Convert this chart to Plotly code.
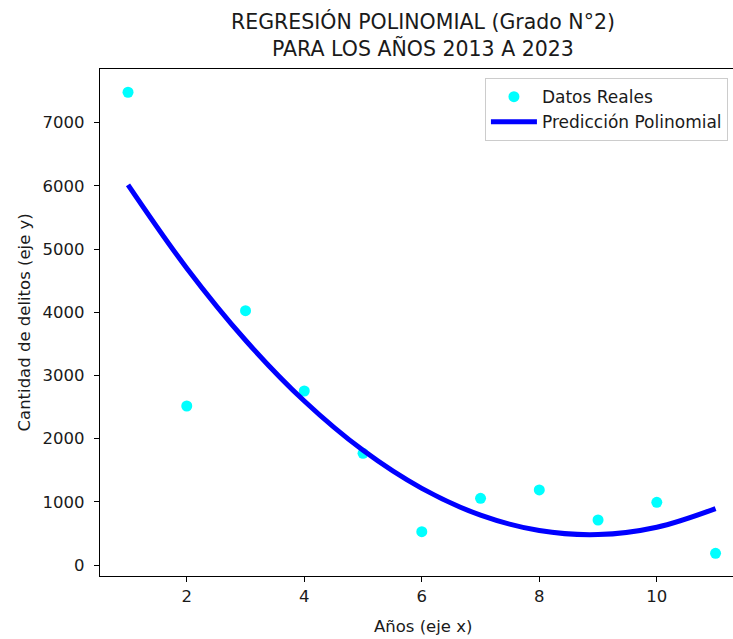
import plotly.graph_objects as go

# Data
years_idx = [1, 2, 3, 4, 5, 6, 7, 8, 9, 10, 11]
real_values = [7480, 2516, 4024, 2753, 1767, 527, 1055, 1187, 712, 992, 185]
pred_values = [6016, 4696, 3556, 2595, 1814, 1212, 789, 546, 482, 598, 893]
x_ticks = [2, 4, 6, 8, 10]
y_ticks = [0, 1000, 2000, 3000, 4000, 5000, 6000, 7000]

FONT = "DejaVu Sans"
TXT = "#1a1a1a"

fig = go.Figure()
fig.add_trace(go.Scatter(
    x=years_idx, y=real_values, mode="markers", name="Datos Reales",
    marker=dict(color="#00FFFF", size=11, line=dict(width=0)),
))
fig.add_trace(go.Scatter(
    x=years_idx, y=pred_values, mode="lines", name="Predicción Polinomial",
    line=dict(color="#0000FF", width=5, shape="spline", smoothing=1.0),
))

fig.update_layout(
    width=733, height=639,
    margin=dict(l=100, r=0, t=69, b=63),
    paper_bgcolor="white", plot_bgcolor="white",
    font=dict(family=FONT, size=16.5, color=TXT),
    title=dict(
        text="REGRESIÓN POLINOMIAL (Grado N°2)<br>PARA LOS AÑOS 2013 A 2023",
        font=dict(family=FONT, size=20.5, color=TXT),
        x=0.5102, xref="paper", xanchor="center",
        y=1 - 29 / 639, yref="container", yanchor="top",
    ),
    showlegend=True,
    legend=dict(
        x=0.992, y=0.982, xanchor="right", yanchor="top",
        bgcolor="rgba(255,255,255,0.8)", bordercolor="#cccccc", borderwidth=1,
        font=dict(family=FONT, size=17, color=TXT),
        itemwidth=46,
    ),
    annotations=[
        dict(text="Años (eje x)", xref="paper", yref="paper",
             x=0.5095, y=(576 - 626) / 507, xanchor="center", yanchor="middle",
             showarrow=False, font=dict(family=FONT, size=16.5, color=TXT)),
        dict(text="Cantidad de delitos (eje y)", xref="paper", yref="paper",
             x=(24 - 100) / 633, y=0.5, xanchor="center", yanchor="middle",
             textangle=-90, showarrow=False,
             font=dict(family=FONT, size=16.5, color=TXT)),
    ],
)

fig.update_xaxes(
    range=[0.523, 11.297], tickvals=x_ticks, ticktext=[str(v) for v in x_ticks],
    showgrid=False, zeroline=False, showline=True, linecolor="black", linewidth=1.2,
    mirror=True, ticks="outside", ticklen=5, tickcolor="black", tickwidth=1.2,
    tickfont=dict(family=FONT, size=16.5, color=TXT),
)
fig.update_yaxes(
    range=[-174, 7848], tickvals=y_ticks, ticktext=[str(v) for v in y_ticks],
    showgrid=False, zeroline=False, showline=True, linecolor="black", linewidth=1.2,
    mirror=False, ticks="outside", ticklen=5, tickcolor="black", tickwidth=1.2,
    ticklabelstandoff=6,
    tickfont=dict(family=FONT, size=16.5, color=TXT),
)

fig.write_html("out.html")
